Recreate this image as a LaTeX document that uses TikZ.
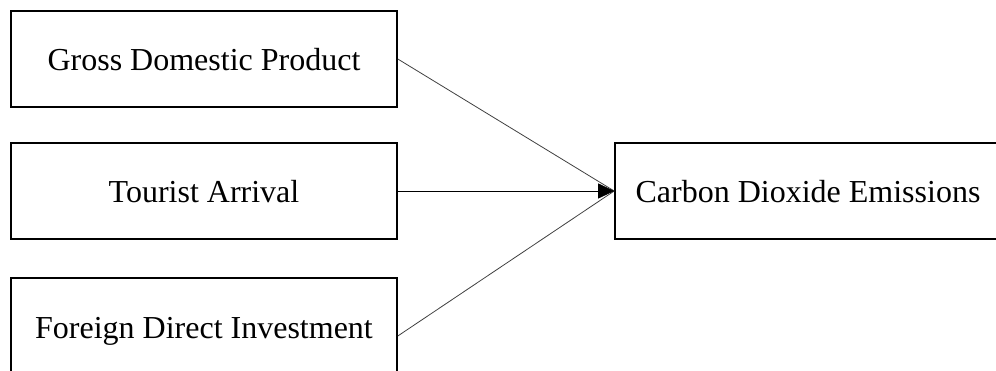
\documentclass[tikz,border=0pt]{standalone}
\usepackage{fontspec}
\setmainfont{Liberation Serif}
\usetikzlibrary{arrows.meta}
\begin{document}
\begin{tikzpicture}[x=1pt,y=-1pt,
  varbox/.style={draw=black,line width=1.6pt,minimum width=386pt,minimum height=96pt,
    inner sep=0pt,text height=24pt,text depth=0pt,
    font=\fontsize{32}{38}\selectfont},
  link/.style={draw=black!75,line width=0.8pt},
  arr/.style={draw=black,line width=0.8pt,-{Triangle[length=16pt,width=15pt]}}]
\useasboundingbox (0,0) rectangle (996,371);
\clip (0,0) rectangle (996,371);
\node[varbox] (gdp) at (204,59) {Gross Domestic Product};
\node[varbox] (ta) at (204,191) {Tourist Arrival};
\node[varbox] (fdi) at (204,326) {Foreign Direct Investment};
\node[varbox] (cde) at (808,191) {Carbon Dioxide Emissions};
\draw[link] (gdp.east) -- (cde.west);
\draw[link] ([yshift=-10pt]fdi.east) -- (cde.west);
\draw[arr] (ta.east) -- (cde.west);
\end{tikzpicture}
\end{document}
